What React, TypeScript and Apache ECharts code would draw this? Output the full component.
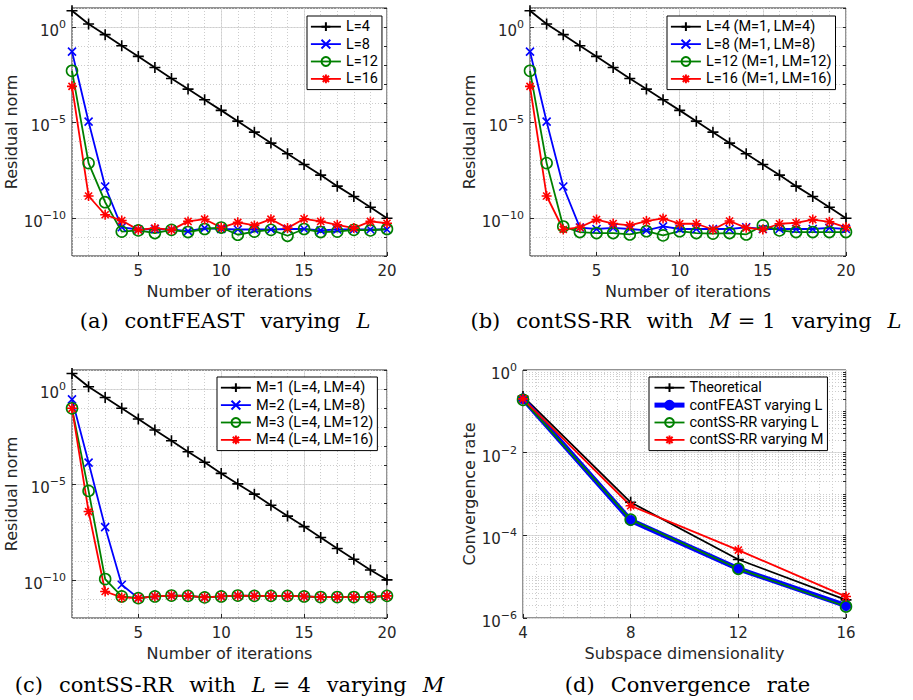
import React, { useEffect, useRef } from 'react';
import * as echarts from 'echarts';

// ---------------- data ----------------
const iterations = [1, 2, 3, 4, 5, 6, 7, 8, 9, 10, 11, 12, 13, 14, 15, 16, 17, 18, 19, 20];

// (a) contFEAST varying L
const aNames = ['L=4', 'L=8', 'L=12', 'L=16'];
const aL4 = [7.2, 1.45, 4.0e-1, 1.05e-1, 2.9e-2, 7.6e-3, 2.0e-3, 5.6e-4, 1.55e-4, 4.3e-5, 1.17e-5, 3.1e-6, 8.3e-7, 2.3e-7, 6.3e-8, 1.74e-8, 4.6e-9, 1.32e-9, 3.6e-10, 9.5e-11];
const aL8 = [5.2e-2, 1.1e-5, 4.4e-9, 3.2e-11, 2.45e-11, 2.6e-11, 2.45e-11, 2.0e-11, 2.9e-11, 2.6e-11, 2.45e-11, 2.45e-11, 2.45e-11, 2.6e-11, 2.6e-11, 2.2e-11, 2.45e-11, 2.45e-11, 2.45e-11, 2.45e-11];
const aL12 = [5.1e-3, 7.4e-8, 6.6e-10, 1.9e-11, 2.2e-11, 1.6e-11, 2.35e-11, 1.8e-11, 2.6e-11, 3.1e-11, 1.3e-11, 1.9e-11, 2.35e-11, 1.15e-11, 2.6e-11, 1.8e-11, 1.9e-11, 2.35e-11, 2.2e-11, 2.6e-11];
const aL16 = [7.8e-4, 1.4e-9, 1.45e-10, 7.2e-11, 2.35e-11, 2.9e-11, 2.35e-11, 6.5e-11, 8.5e-11, 3.1e-11, 5.8e-11, 4.0e-11, 8.5e-11, 2.9e-11, 8.9e-11, 6.5e-11, 4.3e-11, 2.9e-11, 6.5e-11, 5.2e-11];

// (b) contSS-RR with M = 1 varying L
const bNames = ['L=4 (M=1, LM=4)', 'L=8 (M=1, LM=8)', 'L=12 (M=1, LM=12)', 'L=16 (M=1, LM=16)'];
const bL4 = [7.2, 1.45, 4.0e-1, 1.05e-1, 2.9e-2, 7.6e-3, 2.0e-3, 5.6e-4, 1.55e-4, 4.3e-5, 1.17e-5, 3.1e-6, 8.3e-7, 2.3e-7, 6.3e-8, 1.74e-8, 4.6e-9, 1.32e-9, 3.6e-10, 9.5e-11];
const bL8 = [5.2e-2, 1.1e-5, 4.4e-9, 3.1e-11, 2.6e-11, 3.0e-11, 2.6e-11, 2.2e-11, 3.6e-11, 2.6e-11, 2.6e-11, 2.6e-11, 2.6e-11, 3.2e-11, 2.6e-11, 2.6e-11, 2.6e-11, 2.6e-11, 3.0e-11, 2.6e-11];
const bL12 = [5.1e-3, 7.4e-8, 3.5e-11, 1.8e-11, 1.6e-11, 1.6e-11, 1.35e-11, 2.0e-11, 1.2e-11, 2.0e-11, 1.6e-11, 1.5e-11, 1.6e-11, 1.35e-11, 4.0e-11, 2.2e-11, 1.8e-11, 1.8e-11, 1.8e-11, 1.8e-11];
const bL16 = [7.8e-4, 1.4e-9, 2.45e-11, 3.2e-11, 8.1e-11, 5.0e-11, 4.0e-11, 6.8e-11, 9.3e-11, 4.9e-11, 4.9e-11, 2.45e-11, 6.8e-11, 3.0e-11, 2.45e-11, 4.9e-11, 5.5e-11, 8.1e-11, 6.2e-11, 3.2e-11];

// (c) contSS-RR with L = 4 varying M
const cNames = ['M=1 (L=4, LM=4)', 'M=2 (L=4, LM=8)', 'M=3 (L=4, LM=12)', 'M=4 (L=4, LM=16)'];
const cM1 = [6.6, 1.32, 3.6e-1, 9.8e-2, 2.7e-2, 7.1e-3, 1.95e-3, 5.2e-4, 1.45e-4, 3.8e-5, 1.07e-5, 3.1e-6, 8.1e-7, 2.2e-7, 6.2e-8, 1.66e-8, 4.4e-9, 1.2e-9, 3.3e-10, 1.0e-10];
const cM2 = [2.9e-1, 1.4e-4, 5.8e-8, 5.5e-11, 1.1e-11, 1.35e-11, 1.5e-11, 1.45e-11, 1.2e-11, 1.35e-11, 1.5e-11, 1.45e-11, 1.45e-11, 1.45e-11, 1.35e-11, 1.25e-11, 1.25e-11, 1.25e-11, 1.25e-11, 1.45e-11];
const cM3 = [9.8e-2, 4.6e-6, 1.1e-10, 1.35e-11, 1.1e-11, 1.35e-11, 1.5e-11, 1.45e-11, 1.2e-11, 1.35e-11, 1.5e-11, 1.45e-11, 1.45e-11, 1.45e-11, 1.35e-11, 1.25e-11, 1.25e-11, 1.25e-11, 1.25e-11, 1.45e-11];
const cM4 = [9.8e-2, 3.8e-7, 2.45e-11, 1.2e-11, 1.1e-11, 1.35e-11, 1.5e-11, 1.45e-11, 1.2e-11, 1.35e-11, 1.5e-11, 1.45e-11, 1.45e-11, 1.45e-11, 1.35e-11, 1.25e-11, 1.25e-11, 1.25e-11, 1.25e-11, 1.45e-11];

// (d) convergence rate
const dims = [4, 8, 12, 16];
const dNames = ['Theoretical', 'contFEAST varying L', 'contSS-RR varying L', 'contSS-RR varying M'];
const dTheory = [2.3e-1, 6.3e-4, 2.6e-5, 2.75e-6];
const dFeast = [2.0e-1, 2.3e-4, 1.55e-5, 2.0e-6];
const dSSL = [1.9e-1, 2.4e-4, 1.55e-5, 1.9e-6];
const dSSM = [2.0e-1, 5.2e-4, 4.4e-5, 3.3e-6];

const iterTicks = [5, 10, 15, 20];
const residualTicks = [1e-10, 1e-5, 1];
const dimTicks = [4, 8, 12, 16];
const rateTicks = [1e-6, 1e-4, 1e-2, 1];

// ---------------- styling ----------------
const FONT = 'DejaVu Sans';
const LFONT = 'Roboto';
const SERIF = 'DejaVu Serif';
const AX = '#262626';
const MAJOR = '#dcdcdc';
const MINOR = '#cdcdcd';

const PLUS = 'path://M5,0L5,10M0,5L10,5';
const CROSS = 'path://M0,0L10,10M10,0L0,10';
const STAR = 'path://M5,0L5,10M0,5L10,5M1.46,1.46L8.54,8.54M8.54,1.46L1.46,8.54';

type Sty = { color: string; symbol: string; size: number; lw: number; fill: string; bw: number };
const S_BLACK: Sty = { color: '#000000', symbol: PLUS, size: 11, lw: 1.8, fill: 'rgba(0,0,0,0)', bw: 1.6 };
const S_BLUE: Sty = { color: '#0000ff', symbol: CROSS, size: 8, lw: 1.8, fill: 'rgba(0,0,0,0)', bw: 1.6 };
const S_GREEN: Sty = { color: '#008000', symbol: 'circle', size: 11, lw: 1.8, fill: 'rgba(0,0,0,0)', bw: 1.6 };
const S_RED: Sty = { color: '#ff0000', symbol: STAR, size: 10, lw: 1.8, fill: 'rgba(0,0,0,0)', bw: 1.6 };
const S_FEAST: Sty = { color: '#0000ff', symbol: 'circle', size: 10, lw: 5, fill: '#0000ff', bw: 1 };

function mkSeries(name: string, xs: number[], ys: number[], st: Sty, gi: number) {
  return {
    type: 'line',
    name,
    xAxisIndex: gi * 2,
    yAxisIndex: gi * 2,
    data: xs.map((x, i) => [x, ys[i]]),
    symbol: st.symbol,
    symbolSize: st.size,
    symbolKeepAspect: true,
    showAllSymbol: true,
    lineStyle: { color: st.color, width: st.lw },
    itemStyle: { color: st.fill, borderColor: st.color, borderWidth: st.bw },
    emphasis: { disabled: true },
    silent: true,
    clip: false,
  };
}

const supRich = {
  b: { fontSize: 15, fontFamily: FONT, color: AX, lineHeight: 24 },
  s: { fontSize: 11, fontFamily: FONT, color: AX, lineHeight: 10, verticalAlign: 'top' },
};
function logLabel(v: number) {
  const e = Math.round(Math.log10(v));
  return e === 0 ? '{b|10}{s|0}' : `{b|10}{s|\u2212${-e}}`;
}

const nameStyle = { fontSize: 16, fontFamily: FONT, color: AX };

function linXAxes(gi: number, min: number, max: number, ticks: number[], minorInterval: number, name: string) {
  return [
    {
      gridIndex: gi, type: 'value', min, max, position: 'bottom',
      axisLine: { show: false },
      axisTick: { show: true, inside: true, length: 4, customValues: ticks, lineStyle: { color: AX } },
      axisLabel: { customValues: ticks, margin: 7, fontSize: 15, fontFamily: FONT, color: AX },
      splitLine: { show: true, lineStyle: { color: MAJOR, width: 1 } },
      name, nameLocation: 'middle', nameGap: 27, nameTextStyle: nameStyle,
    },
    {
      gridIndex: gi, type: 'value', min, max, interval: minorInterval, position: 'top',
      axisLine: { show: false }, axisTick: { show: false }, axisLabel: { show: false },
      splitLine: { show: true, lineStyle: { color: MINOR, width: 1, type: [1, 2] } },
    },
  ];
}

function logYAxes(gi: number, min: number, max: number, ticks: number[], minor: number[], name: string, gap: number) {
  return [
    {
      gridIndex: gi, type: 'log', logBase: 10, min, max, position: 'left',
      axisLine: { show: false },
      axisTick: { show: true, inside: true, length: 4, customValues: ticks, lineStyle: { color: AX } },
      axisLabel: { customValues: ticks, formatter: logLabel, rich: supRich, margin: 6, padding: [8, 0, 0, 0] },
      splitLine: { show: true, lineStyle: { color: MAJOR, width: 1 } },
      name, nameLocation: 'middle', nameGap: gap, nameRotate: 90, nameTextStyle: nameStyle,
    },
    {
      gridIndex: gi, type: 'log', logBase: 10, min, max, position: 'right',
      axisLine: { show: false },
      axisTick: { show: true, inside: true, length: 3, customValues: minor, lineStyle: { color: AX } },
      axisLabel: { show: false },
      splitLine: { show: true, lineStyle: { color: MINOR, width: 1, type: [1, 2] } },
    },
  ];
}

const decades: number[] = [];
for (let k = -12; k <= 1; k++) decades.push(Math.pow(10, k));
const rateMinor: number[] = [];
for (let k = -6; k < 0; k++) for (let m = 1; m <= 9; m++) rateMinor.push(m * Math.pow(10, k));

function legend(names: string[], left: number, top: number) {
  return {
    data: names, orient: 'vertical', left, top,
    itemWidth: 30, itemHeight: 11, itemGap: 0,
    padding: [2, 4, 2, 3],
    borderColor: '#000', borderWidth: 1, backgroundColor: '#fff', borderRadius: 0,
    selectedMode: false,
    lineStyle: { width: 'inherit' },
    textStyle: { fontFamily: LFONT, fontSize: 14.5, color: '#000', lineHeight: 17.4 },
  };
}

type Tok = [string, boolean, number];
function caption(tokens: Tok[], cx: number, cy: number) {
  const rich: Record<string, object> = {};
  let text = '';
  tokens.forEach((t, i) => {
    rich['t' + i] = { fontFamily: SERIF, fontSize: 21, fontStyle: t[1] ? 'italic' : 'normal', color: '#000', padding: [0, t[2], 0, 0] };
    text += `{t${i}|${t[0]}}`;
  });
  return { type: 'text', x: cx, y: cy, style: { text, rich, align: 'center', verticalAlign: 'middle' }, silent: true };
}

export default function App() {
  const ref = useRef<HTMLDivElement>(null);
  useEffect(() => {
    if (!ref.current) return;
    const chart = echarts.init(ref.current, null, { renderer: 'svg' });
    const gridBase = { show: true, borderColor: AX, borderWidth: 1, backgroundColor: '#fff', containLabel: false };
    const option = {
      animation: false,
      backgroundColor: '#fff',
      grid: [
        { ...gridBase, left: 72, top: 8, width: 315, height: 248 },
        { ...gridBase, left: 530, top: 8, width: 316, height: 248 },
        { ...gridBase, left: 72, top: 370, width: 315, height: 248 },
        { ...gridBase, left: 523, top: 370, width: 323, height: 248 },
      ],
      xAxis: [
        ...linXAxes(0, 1, 20, iterTicks, 1, 'Number of iterations'),
        ...linXAxes(1, 1, 20, iterTicks, 1, 'Number of iterations'),
        ...linXAxes(2, 1, 20, iterTicks, 1, 'Number of iterations'),
        ...linXAxes(3, 4, 16, dimTicks, 0.5, 'Subspace dimensionality'),
      ],
      yAxis: [
        ...logYAxes(0, 1e-12, 10, residualTicks, decades, 'Residual norm', 50),
        ...logYAxes(1, 1e-12, 10, residualTicks, decades, 'Residual norm', 51),
        ...logYAxes(2, 1e-12, 10, residualTicks, decades, 'Residual norm', 50),
        ...logYAxes(3, 1e-6, 1, rateTicks, rateMinor, 'Convergence rate', 44),
      ],
      legend: [
        legend(aNames, 307, 16),
        legend(bNames, 667, 16),
        legend(cNames, 217, 377),
        legend(dNames, 649, 377),
      ],
      series: [
        mkSeries(aNames[0], iterations, aL4, S_BLACK, 0),
        mkSeries(aNames[1], iterations, aL8, S_BLUE, 0),
        mkSeries(aNames[2], iterations, aL12, S_GREEN, 0),
        mkSeries(aNames[3], iterations, aL16, S_RED, 0),
        mkSeries(bNames[0], iterations, bL4, S_BLACK, 1),
        mkSeries(bNames[1], iterations, bL8, S_BLUE, 1),
        mkSeries(bNames[2], iterations, bL12, S_GREEN, 1),
        mkSeries(bNames[3], iterations, bL16, S_RED, 1),
        mkSeries(cNames[0], iterations, cM1, S_BLACK, 2),
        mkSeries(cNames[1], iterations, cM2, S_BLUE, 2),
        mkSeries(cNames[2], iterations, cM3, S_GREEN, 2),
        mkSeries(cNames[3], iterations, cM4, S_RED, 2),
        mkSeries(dNames[0], dims, dTheory, S_BLACK, 3),
        mkSeries(dNames[1], dims, dFeast, S_FEAST, 3),
        mkSeries(dNames[2], dims, dSSL, S_GREEN, 3),
        mkSeries(dNames[3], dims, dSSM, S_RED, 3),
      ],
      graphic: [
        caption([['(a)', false, 16], ['contFEAST', false, 16], ['varying', false, 16], ['L', true, 0]], 225, 321),
        caption([['(b)', false, 16], ['contSS-RR', false, 16], ['with', false, 16], ['M', true, 7], ['=', false, 7], ['1', false, 16], ['varying', false, 16], ['L', true, 0]], 686, 321),
        caption([['(c)', false, 16], ['contSS-RR', false, 16], ['with', false, 16], ['L', true, 7], ['=', false, 7], ['4', false, 16], ['varying', false, 16], ['M', true, 0]], 229.5, 685),
        caption([['(d)', false, 16], ['Convergence', false, 16], ['rate', false, 0]], 687.5, 685),
      ],
    };
    chart.setOption(option as any);
    return () => chart.dispose();
  }, []);
  return <div ref={ref} style={{ position: 'absolute', left: 0, top: 0, width: 913, height: 700 }} />;
}
